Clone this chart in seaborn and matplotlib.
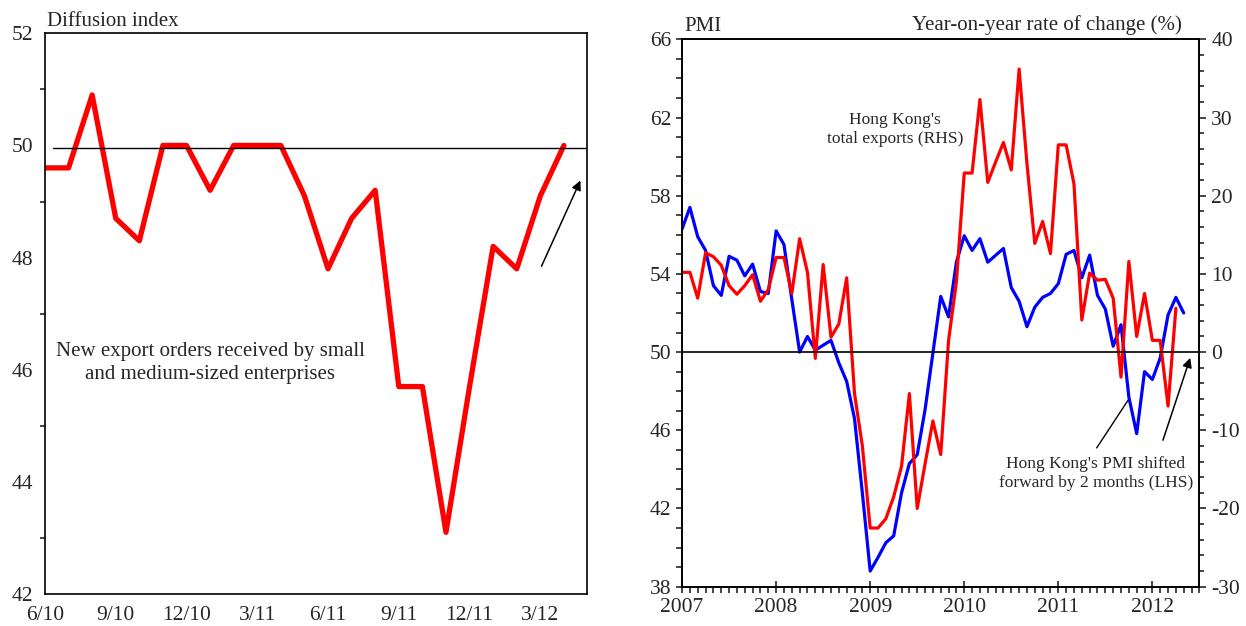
import numpy as np
import pandas as pd
import matplotlib
matplotlib.use("Agg")
import matplotlib.pyplot as plt
from matplotlib.ticker import MultipleLocator
import seaborn as sns

# left panel: SME new export orders (diffusion index), Jun 2010 - Apr 2012
sme_months = ['6/10', '7/10', '8/10', '9/10', '10/10', '11/10', '12/10', '1/11', '2/11', '3/11',
              '4/11', '5/11', '6/11', '7/11', '8/11', '9/11', '10/11', '11/11', '12/11',
              '1/12', '2/12', '3/12', '4/12']
sme_index = [49.6, 49.6, 50.9, 48.7, 48.3, 50.0, 50.0, 49.2, 50.0, 50.0, 50.0, 49.1,
             47.8, 48.7, 49.2, 45.7, 45.7, 43.1, 45.7, 48.2, 47.8, 49.1, 50.0]
sme_ticks = ['6/10', '9/10', '12/10', '3/11', '6/11', '9/11', '12/11', '3/12']

# right panel: monthly from Jan 2007
pmi_shifted = [56.3, 57.4, 55.9, 55.2, 53.4, 52.9, 54.9, 54.7, 53.9, 54.5, 53.1, 53.0,
               56.2, 55.5, 52.7, 50.0, 50.8, 50.1, 50.35, 50.6, 49.45, 48.5, 46.6, 42.8,
               38.8, 39.5, 40.25, 40.6, 42.8, 44.3, 44.75, 47.05, 49.95, 52.85, 51.8, 54.6,
               55.95, 55.2, 55.8, 54.6, 54.95, 55.3, 53.3, 52.6, 51.3, 52.3, 52.8, 53.0,
               53.5, 55.0, 55.2, 53.8, 54.96, 52.9, 52.2, 50.3, 51.4, 47.7, 45.83, 49.0,
               48.6, 49.7, 51.9, 52.8, 52.0]
exports_yoy = [10.2, 10.2, 6.9, 12.7, 12.2, 11.1, 8.5, 7.4, 8.5, 9.9, 6.5, 8.0,
               12.1, 12.1, 7.5, 14.5, 10.2, -0.8, 11.2, 1.9, 3.6, 9.5, -5.3, -12.0,
               -22.5, -22.5, -21.3, -18.5, -14.6, -5.3, -20.0, -14.3, -8.8, -13.1, 1.5, 9.0,
               22.9, 22.9, 32.3, 21.7, 24.3, 26.8, 23.3, 36.2, 24.1, 13.9, 16.7, 12.6,
               26.5, 26.5, 21.5, 4.1, 10.1, 9.2, 9.3, 6.9, -3.2, 11.6, 2.0, 7.5,
               1.5, 1.5, -6.9, 5.6]
years = ['2007', '2008', '2009', '2010', '2011', '2012']

sme = pd.DataFrame({'m': np.arange(len(sme_index)), 'v': sme_index})
pmi = pd.DataFrame({'m': np.arange(len(pmi_shifted)), 'v': pmi_shifted})
exp = pd.DataFrame({'m': np.arange(len(exports_yoy)), 'v': exports_yoy})

sns.set_style("white")
plt.rcParams['font.family'] = ['Liberation Serif', 'DejaVu Serif']
plt.rcParams['font.size'] = 15
plt.rcParams['axes.unicode_minus'] = False

fig = plt.figure(figsize=(12.46, 6.26), dpi=100)

# ---- left panel
ax = fig.add_axes([0.0361, 0.0511, 0.4354, 0.8957])
sns.lineplot(data=sme, x='m', y='v', ax=ax, color='#ff0000', lw=3.8)
ax.axhline(49.96, xmin=0.33 / 23, color='black', lw=1.0)
ax.set_xlim(0, 23)
ax.set_ylim(42, 52)
ax.yaxis.set_major_locator(MultipleLocator(2))
ax.yaxis.set_minor_locator(MultipleLocator(1))
ax.set_xticks([sme_months.index(t) for t in sme_ticks])
ax.set_xticklabels(sme_ticks)
ax.set_xlabel('')
ax.set_ylabel('')
ax.tick_params(axis='both', which='both', direction='out', labelsize=15.5, width=1.2)
ax.tick_params(axis='both', which='major', length=5)
ax.tick_params(axis='y', which='minor', length=3.5, left=True)
for s in ax.spines.values():
    s.set_linewidth(1.2)
    s.set_color('black')
ax.text(7.0, 46.12, 'New export orders received by small\nand medium-sized enterprises',
        ha='center', va='center', fontsize=15, linespacing=1.25)
ax.annotate('', xy=(22.75, 49.42), xytext=(21.0, 47.8),
            arrowprops=dict(arrowstyle='-|>', color='black', lw=1.1, mutation_scale=14))
fig.text(0.0375, 0.965, 'Diffusion index', ha='left', va='center', fontsize=15)

# ---- right panel
ax1 = fig.add_axes([0.5474, 0.0628, 0.4152, 0.8744])
sns.lineplot(data=pmi, x='m', y='v', ax=ax1, color='#0000ff', lw=2.3)
ax1.set_xlim(0, 66)
ax1.set_ylim(38, 66)
ax1.set_yticks(np.arange(38, 67, 4))
ax1.yaxis.set_minor_locator(MultipleLocator(1))
ax1.set_xticks(np.arange(len(years)) * 12)
ax1.set_xticklabels(years)
ax1.xaxis.set_minor_locator(MultipleLocator(1))
ax1.set_xlabel('')
ax1.set_ylabel('')
ax1.tick_params(axis='both', which='both', labelsize=15.5, width=1.2)
ax1.tick_params(axis='y', which='both', direction='out', length=4.3, left=True)
ax1.tick_params(axis='x', which='major', direction='inout', length=9, bottom=True)
ax1.tick_params(axis='x', which='minor', direction='out', length=4.5, bottom=True)

ax2 = ax1.twinx()
sns.lineplot(data=exp, x='m', y='v', ax=ax2, color='#ff0000', lw=2.3)
ax2.set_ylim(-30, 40)
ax2.yaxis.set_major_locator(MultipleLocator(10))
ax2.yaxis.set_minor_locator(MultipleLocator(2))
ax2.set_ylabel('')
ax2.tick_params(axis='y', which='both', direction='out', labelsize=15.5, width=1.2, right=True)
ax2.tick_params(axis='y', which='major', length=5)
ax2.tick_params(axis='y', which='minor', length=3.4)
ax2.axhline(0, color='black', lw=1.2)
for a in (ax1, ax2):
    for s in a.spines.values():
        s.set_linewidth(1.2)
        s.set_color('black')

ax2.text(27.2, 28.5, "Hong Kong's\ntotal exports (RHS)", ha='center', va='center',
         fontsize=12.5, linespacing=1.25)
ax2.text(52.8, -15.5, "Hong Kong's PMI shifted\nforward by 2 months (LHS)", ha='center',
         va='center', fontsize=12.5, linespacing=1.22)
ax2.annotate('', xy=(57.1, -5.85), xytext=(52.7, -12.55),
             arrowprops=dict(arrowstyle='-', color='black', lw=1.0))
ax2.annotate('', xy=(64.94, -0.4), xytext=(61.24, -11.6),
             arrowprops=dict(arrowstyle='-|>', color='black', lw=1.1, mutation_scale=14))

fig.text(0.5494, 0.958, 'PMI', ha='left', va='center', fontsize=15)
fig.text(0.9486, 0.960, 'Year-on-year rate of change (%)', ha='right', va='center', fontsize=15)

fig.savefig('out.png', dpi=100)
